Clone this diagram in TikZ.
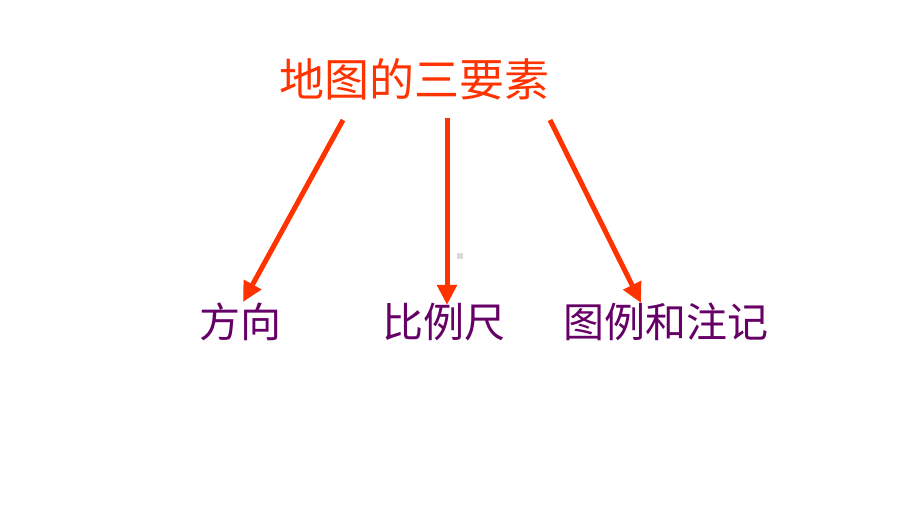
\documentclass[tikz,border=0pt]{standalone}
\usepackage{fontspec}
\newfontfamily\cjk{Noto Sans CJK SC}
\usetikzlibrary{arrows.meta}
\definecolor{titlered}{HTML}{FF3300}
\definecolor{labelpurple}{HTML}{660066}

\begin{document}
\begin{tikzpicture}[x=1pt,y=-1pt,
  title/.style = {text=titlered, font=\cjk\fontsize{45}{50}\selectfont, anchor=base, inner sep=0pt},
  item/.style = {text=labelpurple, font=\cjk\fontsize{41}{46}\selectfont, anchor=base, inner sep=0pt},
  link/.style = {draw=titlered, line width=5pt, -{Triangle[length=20pt,width=19pt]}}]
        \useasboundingbox (0,0) rectangle (920,518);
        \node[title] (top) at (414,97) {地图的三要素};
        \node[item] (dir) at (240,337) {方向};
        \node[item] (scale) at (444,337) {比例尺};
        \node[item] (legend) at (666,337) {图例和注记};
        \coordinate (s1) at (343,120);
        \coordinate (s2) at (447,118);
        \coordinate (s3) at (550,120);
        \coordinate (e1) at (243,302);
        \coordinate (e2) at (447,305);
        \coordinate (e3) at (641,303);
        \draw[link] (s1) -- (e1);
        \draw[link] (s2) -- (e2);
        \draw[link] (s3) -- (e3);
        \fill[black!15] (457,253) rectangle (463,259);
\end{tikzpicture}
\end{document}
